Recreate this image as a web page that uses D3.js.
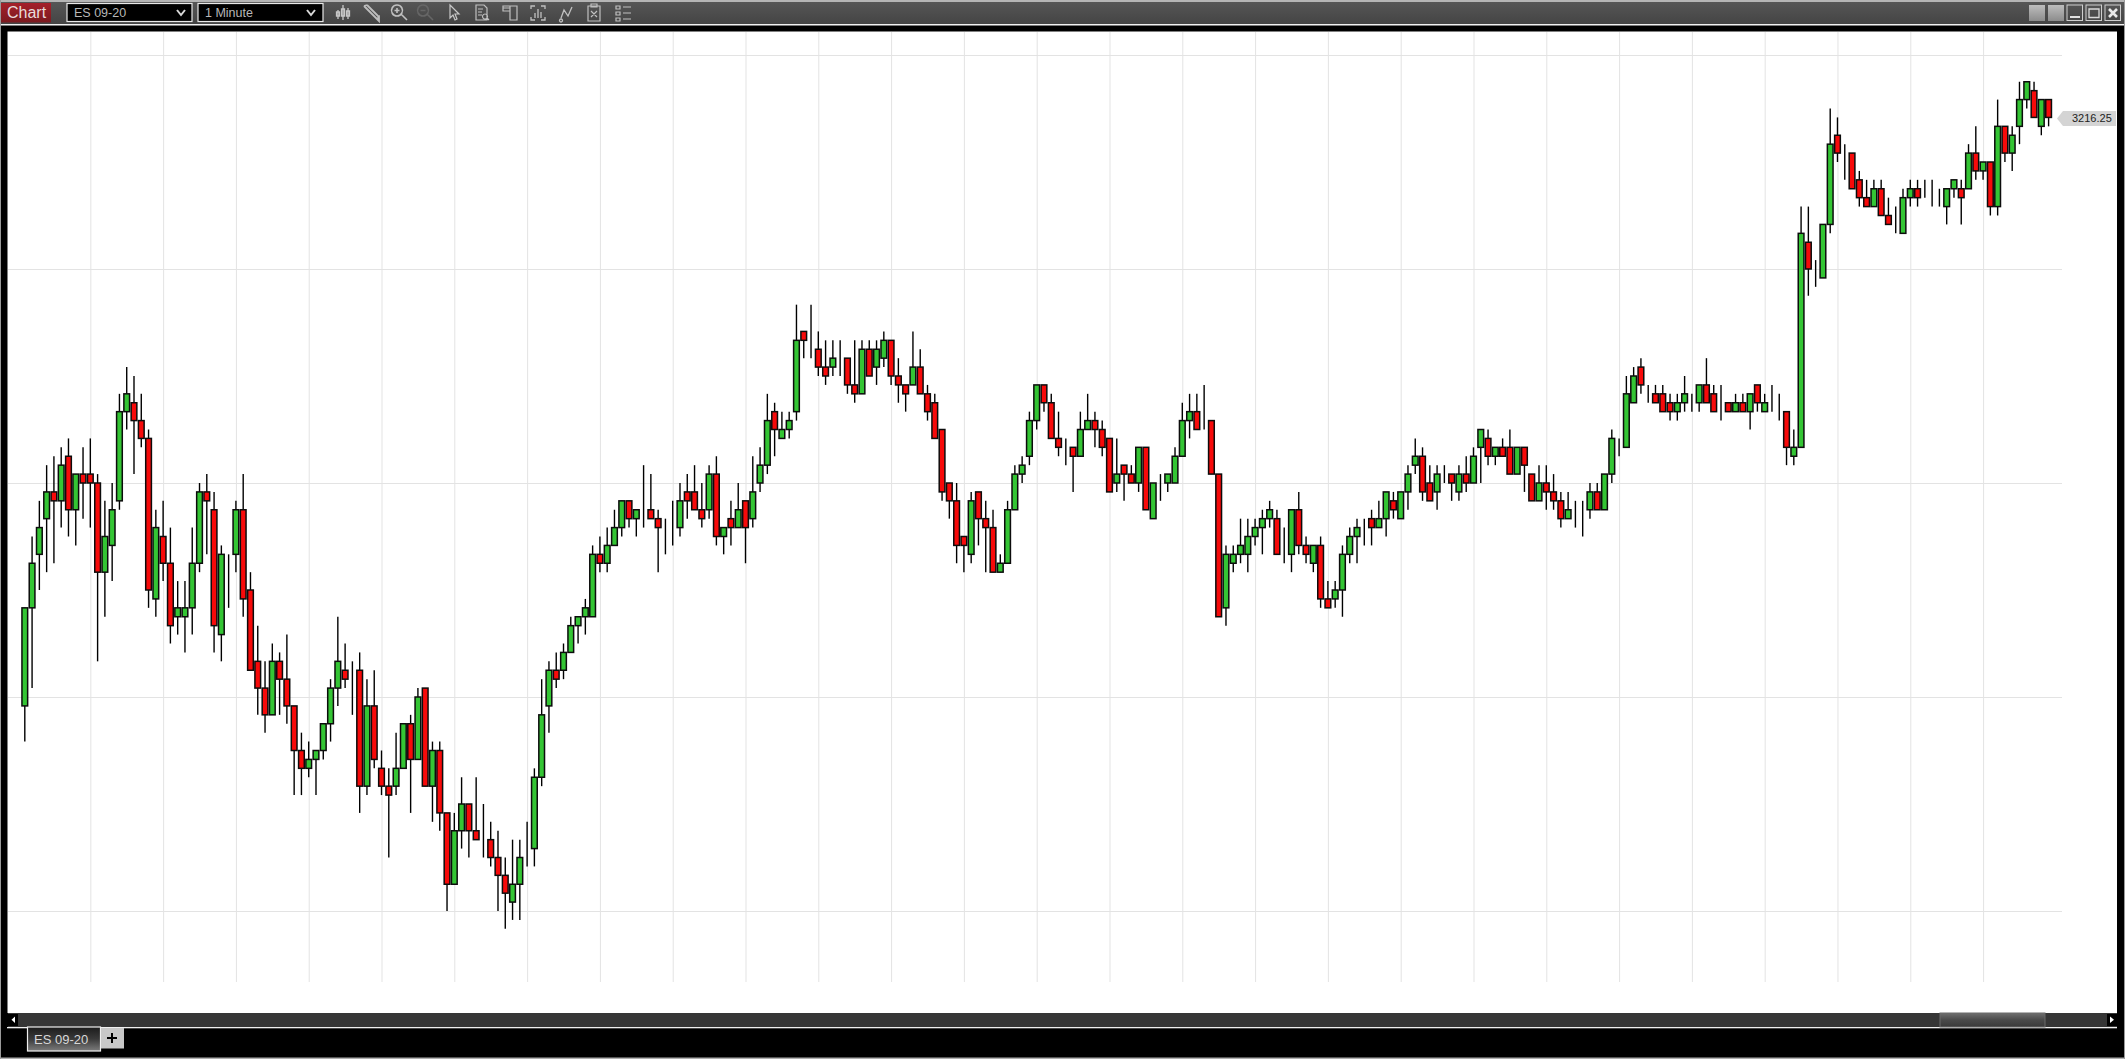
<!DOCTYPE html>
<html><head><meta charset="utf-8">
<style>html,body{margin:0;padding:0;background:#000;overflow:hidden}svg{display:block}text{font-family:"Liberation Sans",Arial,sans-serif}</style>
<script src="https://cdn.jsdelivr.net/npm/d3@7"></script></head><body>
<script>
// ES 09-20, 1 minute candles. Values are quarter-point ticks above 3200.
const basePrice = 3200, tickSize = 0.25;
const opens = [
-1,10,16,20,23,22,27,21,25,25, 24,14,17,22,32,33,31,29,11,18,
15,9,9,10,15,23,21,7,16,16, 21,12,4,1,-2,4,2,-1,-6,-8,
-7,-6,-3,1,3,2,3,-10,-1,-8, -10,-10,-8,-3,-7,1,-10,-6,-13,-21,
-15,-12,-15,-15,-16,-18,-20,-23,-21,-17, -17,-9,-1,3,3,5,8,9,9,16,
15,17,19,22,20,21,21,20,20,19, 19,23,23,21,21,25,18,20,19,22,
20,24,26,32,29,30,32,41,40,39, 37,37,38,38,35,34,39,37,38,40,
36,35,35,37,34,33,30,24,22,18, 16,23,20,19,14,15,21,25,27,31,
35,33,29,27,28,27,30,31,30,29, 24,26,25,24,28,20,24,24,24,27,
31,32,31,31,25,10,15,16,16,18, 19,20,20,16,16,21,17,15,17,11,
11,12,16,18,20,20,19,20,22,20, 23,26,27,24,23,25,25,23,25,24,
28,29,27,28,28,25,28,25,22,24, 23,22,20,21,21,21,23,21,25,29,
28,33,37,35,34,34,33,32,33,33, 33,35,34,32,33,32,33,32,35,32,
33,33,32,27,28,51,48,47,53,63, 61,61,58,56,55,57,54,53,52,56,
57,56,56,56,55,57,57,57,61,59, 60,55,64,61,64,67,68,64,67];
const closes = [
10,15,19,23,22,26,21,25,24,24, 14,18,21,32,34,31,29,12,19,15,
8,10,10,15,23,22,8,16,16,21, 11,3,1,-2,4,2,-1,-6,-8,-7,
-6,-3,1,4,2,2,-10,-1,-7,-10, -11,-8,-3,-7,0,-10,-6,-13,-21,-15,
-12,-15,-16,-15,-18,-20,-22,-21,-18,-17, -9,-2,3,2,5,8,9,10,16,15,
17,19,22,20,21,21,20,19,20,19, 22,22,21,20,25,18,19,19,21,19,
23,26,31,30,30,31,40,40,40,37, 36,38,38,35,34,39,36,39,40,36,
35,34,37,34,32,29,23,22,17,17, 22,20,19,14,15,21,25,26,31,35,
33,29,28,27,27,30,31,30,28,23, 25,25,24,28,21,24,24,25,27,31,
32,30,31,25,9,16,16,17,18,19, 20,21,16,16,21,17,16,17,11,10,
12,16,18,19,20,19,20,23,21,23, 25,27,23,22,25,25,24,25,24,27,
30,27,28,27,25,28,26,22,24,23, 22,20,21,21,21,23,21,25,29,29,
34,36,35,35,33,32,32,33,34,33, 35,33,32,32,32,33,32,34,33,33,
33,33,28,28,52,48,48,53,62,61, 61,57,56,55,57,54,53,53,56,57,
56,56,56,56,57,58,56,61,59,60, 55,64,61,63,67,69,65,67,65];
const highs = [
10,18,22,26,27,28,29,25,28,29, 25,22,24,34,37,36,34,30,21,22,
19,13,13,19,24,25,23,17,16,22, 25,14,8,4,6,5,7,-1,-4,-5,
-6,-3,2,9,6,4,5,2,3,-6, -8,-4,-3,-2,1,1,-5,-5,-13,-13,
-9,-12,-9,-12,-14,-15,-18,-16,-16,-14, -8,2,4,5,6,9,9,11,17,18,
19,21,22,22,21,26,25,21,20,22, 24,25,26,24,26,27,19,22,24,22,
27,28,34,33,32,32,44,41,44,41, 40,40,40,38,40,40,40,40,41,40,
38,35,41,39,35,34,30,24,24,18, 23,23,22,21,16,22,26,27,32,35,
35,34,32,29,28,32,34,32,31,29, 29,26,26,28,28,24,25,25,28,33,
34,34,35,31,25,17,17,20,20,20, 21,22,21,19,21,23,18,17,18,13,
13,17,19,20,20,21,22,23,23,23, 26,29,28,26,26,26,25,26,27,28,
30,30,28,29,30,28,28,25,26,26, 25,23,23,22,22,24,24,25,30,29,
36,37,38,35,35,35,34,34,36,34, 35,38,35,35,33,34,34,34,35,34,
35,34,32,30,55,55,49,53,66,65, 62,61,59,58,58,58,56,55,57,58,
58,58,58,57,57,58,58,62,64,60, 60,67,64,64,69,69,69,67,67];
const lows = [
-5,1,12,14,15,19,18,17,20,19, 4,9,13,21,30,25,28,10,9,13,
6,7,5,7,14,16,5,4,10,14, 9,3,-2,-4,-2,-2,-3,-11,-11,-9,
-11,-7,-5,-1,1,-2,-13,-11,-8,-11, -18,-11,-8,-13,-7,-10,-14,-15,-24,-21,
-17,-18,-16,-18,-19,-24,-26,-25,-25,-19, -19,-10,-4,1,2,5,6,7,9,14,
14,17,18,19,18,19,20,14,16,17, 18,20,21,19,20,17,16,17,19,15,
19,23,25,27,29,29,31,38,38,36, 35,36,36,34,33,34,36,35,37,35,
33,32,35,34,31,29,22,20,15,14, 15,17,14,14,14,15,21,24,26,30,
32,29,27,26,23,27,30,28,27,23, 23,22,24,23,21,20,22,23,24,27,
29,30,30,25,9,8,14,15,14,17, 16,19,16,15,14,16,15,14,10,10,
10,9,15,15,17,17,19,18,20,20, 21,25,22,22,21,24,22,22,23,24,
24,26,26,27,25,25,23,22,22,21, 21,19,20,19,18,20,21,21,24,27,
28,33,34,33,33,32,31,31,32,32, 32,33,32,31,32,32,32,30,32,32,
32,31,26,26,28,45,46,47,52,60, 58,57,55,55,55,54,53,52,52,55,
55,56,55,55,53,56,53,57,58,58, 54,54,60,59,62,66,65,63,64];
const gridPrices = [3194,3200,3206,3212,3218];
const gridCandles = [9,19,29,39,49,59,69,79,89,99,109,119,129,139,149,159,169,179,189,199,209,219,229,239,249,259,269];
const lastPriceLabel = "3216.25", instrument = "ES 09-20", period = "1 Minute", windowTitle = "Chart";

const price = t => basePrice + t * tickSize;
const candles = opens.map((o,i)=>({i,o:price(o),c:price(closes[i]),h:price(highs[i]),l:price(lows[i])}));

const W=2125,H=1059;
const svg=d3.select("body").append("svg").attr("width",W).attr("height",H);
const defs=svg.append("defs");
function grad(id,stops){const g=defs.append("linearGradient").attr("id",id).attr("x1",0).attr("x2",0).attr("y1",0).attr("y2",1);
 stops.forEach(([o,c])=>g.append("stop").attr("offset",o).attr("stop-color",c));}
grad("bar",[[0,"#565656"],[1,"#444444"]]);
grad("red",[[0,"#a5202a"],[1,"#7a1a1f"]]);
grad("thumb",[[0,"#707070"],[0.5,"#4a4a4a"],[1,"#3a3a3a"]]);
grad("tab",[[0,"#1c1c1c"],[0.5,"#3a3a3a"],[1,"#7c7c7c"]]);
grad("btn",[[0,"#bdbdbd"],[1,"#8c8c8c"]]);
const R=(x,y,w,h,f,p=svg)=>p.append("rect").attr("x",x).attr("y",y).attr("width",w).attr("height",h).attr("fill",f);

// window frame
R(0,0,W,H,"#000");
R(0,0,W,2,"#b5b5b5"); R(0,2,W,22,"url(#bar)"); R(0,24,W,1.5,"#f2f2f2"); R(0,1057.5,W,1.5,"#b0b0b0");
R(0,0,1,H,"#9a9a9a"); R(2124,0,1,H,"#9a9a9a");
// chart panel
R(7.5,31.5,2109.5,981.5,"#fff");

// toolbar
R(1,3,50,19.5,"url(#red)");
svg.append("text").attr("x",7).attr("y",18).attr("font-size",16).attr("fill","#e8dcdc").text(windowTitle);
[[67,instrument,181],[198,period,311]].forEach(([x,t,cx])=>{
 svg.append("rect").attr("x",x).attr("y",3.5).attr("width",125).attr("height",18).attr("fill","#000").attr("stroke","#e8e8e8").attr("stroke-width",1.2);
 svg.append("text").attr("x",x+7).attr("y",17).attr("font-size",12.5).attr("fill","#b8b8b8").text(t);
 svg.append("path").attr("d",`M${cx-4},10 L${cx},15 L${cx+4},10`).attr("fill","none").attr("stroke","#d8d8d8").attr("stroke-width",2);
});
const icons=[
 [343,"M-5,-3V6 M0,-8V7 M5,-5V6 M-6.5,-1h3v4h-3z M-1.5,-4h3v7h-3z M3.5,-2h3v5h-3z","#c8c8c8",1.3],
 [371,"M-7,-7L6,6 M-4,-8L8,4 M-7,-7L-4,-8 M6,6L8,8L8,4z","#bdbdbd",1.8],
 [400,"M-3,-8a5.5,5.5 0 1,0 .01,0 M-3,-5V0 M-5.5,-2.5H-.5 M1,1L7,7","#c0c0c0",1.6],
 [426,"M-3,-8a5.5,5.5 0 1,0 .01,0 M-5.5,-2.5H-.5 M1,1L7,7","#666",1.6],
 [454,"M-4,-8V5L-1,2L1,7L3,6L1,1H5z","#c8c8c8",1.2],
 [482,"M-6,-8H2L5,-5V7H-6z M-4,-4H1 M-4,-1H0 M-4,2H0 M3,1a2.5,2.5 0 1,0 .01,0 M5,5L7,7","#c0c0c0",1.2],
 [510,"M-7,-7H0V-2H-7z M-7,-5H0 M0,-7H7V7H0V-2","#c0c0c0",1.2],
 [538,"M-7,-4V-7H-3 M3,-7H7V-4 M-7,4V7H-3 M3,7H7V4 M-3,5V0 M0,5V-4 M3,5V-1","#c0c0c0",1.3],
 [566,"M-5,5L-2,-3L2,3L6,-6 M-5,6a1.5,1.5 0 1,0 .01,0","#c0c0c0",1.3],
 [594,"M-6,-7H6V8H-6z M-3,-9H3V-6H-3z M-3,-2L3,4 M3,-2L-3,4","#c0c0c0",1.2],
 [623,"M-7,-7H-3V-4H-7z M-7,-1H-3V2H-7z M-7,5H-3V8H-7z M0,-6H8 M0,0H8 M0,6H8","#c0c0c0",1.2]];
icons.forEach(([x,d,c,w])=>svg.append("path").attr("transform",`translate(${x},13)`).attr("d",d).attr("fill","none").attr("stroke",c).attr("stroke-width",w));
// window buttons
R(2029,5,16,16,"url(#btn)"); R(2048,5,16,16,"url(#btn)");
[2067,2086,2105].forEach(x=>svg.append("rect").attr("x",x).attr("y",5).attr("width",15.5).attr("height",15.5).attr("fill","none").attr("stroke","#cfcfcf"));
svg.append("path").attr("d","M2070,17H2080").attr("stroke","#e0e0e0").attr("stroke-width",2);
svg.append("path").attr("d","M2089,9H2099V17.5H2089z").attr("fill","none").attr("stroke","#d8d8d8").attr("stroke-width",1.3);
svg.append("path").attr("d","M2109,9L2117,17M2117,9L2109,17").attr("stroke","#e8e8e8").attr("stroke-width",2.6);

// scales
const x=d3.scaleLinear().domain([0,278]).range([24.8,2048.6]);
const y=d3.scaleLinear().domain([3194,3218]).range([911,55]);

// grid through axes
const gridColor="#e3e3e3";
const gy=svg.append("g").attr("transform","translate(8,0)").call(d3.axisRight(y).tickValues(gridPrices).tickSize(2054).tickFormat(""));
const gx=svg.append("g").attr("transform","translate(0,32)").call(d3.axisBottom(x).tickValues(gridCandles).tickSize(950).tickFormat(""));
[gy,gx].forEach(g=>{g.select(".domain").remove();g.selectAll("line").attr("stroke",gridColor).attr("stroke-width",1);});

// candles
const bodyW=5.7;
const gc=svg.append("g");
gc.selectAll("line.w").data(candles).join("line").attr("class","w")
 .attr("x1",d=>x(d.i)).attr("x2",d=>x(d.i)).attr("y1",d=>y(d.h)).attr("y2",d=>y(d.l))
 .attr("stroke","#000").attr("stroke-width",1.4);
gc.selectAll("rect.b").data(candles).join("rect").attr("class","b")
 .attr("x",d=>x(d.i)-bodyW/2).attr("width",bodyW)
 .attr("y",d=>y(Math.max(d.o,d.c))).attr("height",d=>Math.abs(y(d.o)-y(d.c)))
 .attr("fill",d=>d.c>=d.o?"#34c534":"#f70a0a")
 .attr("stroke","#0c0c0c").attr("stroke-width",1.5);

// last price marker
const ly=y(+lastPriceLabel)+1;
svg.append("path").attr("d",`M2057,${ly} L2063,${ly-7.5} H2116 V${ly+7.5} H2063 Z`).attr("fill","#d4d4d4");
svg.append("text").attr("x",2072).attr("y",ly+4).attr("font-size",11).attr("fill","#222").text(lastPriceLabel);

// scrollbar
R(8,1013,2109,14,"#363636"); R(7,1027,2110,1.3,"#f0f0f0");
R(8,1014,10,12,"#000"); svg.append("path").attr("d","M15,1016.5V1023L11.5,1019.8z").attr("fill","#fff");
R(2107,1014,10,12,"#000"); svg.append("path").attr("d","M2110,1016.5V1023L2114,1019.8z").attr("fill","#fff");
svg.append("rect").attr("x",1940).attr("y",1013).attr("width",105).attr("height",14).attr("fill","url(#thumb)").attr("stroke","#6a6a6a");

// tab strip
svg.append("rect").attr("x",27.5).attr("y",1027).attr("width",73).attr("height",24).attr("fill","url(#tab)").attr("stroke","#eee").attr("stroke-width",1.2);
svg.append("text").attr("x",34).attr("y",1043.5).attr("font-size",13).attr("fill","#d8d8d8").text(instrument);
R(101,1028,23,20.5,"#c8c8c8");
svg.append("path").attr("d","M107,1038H117M112,1033V1043").attr("stroke","#000").attr("stroke-width",2);
</script></body></html>
